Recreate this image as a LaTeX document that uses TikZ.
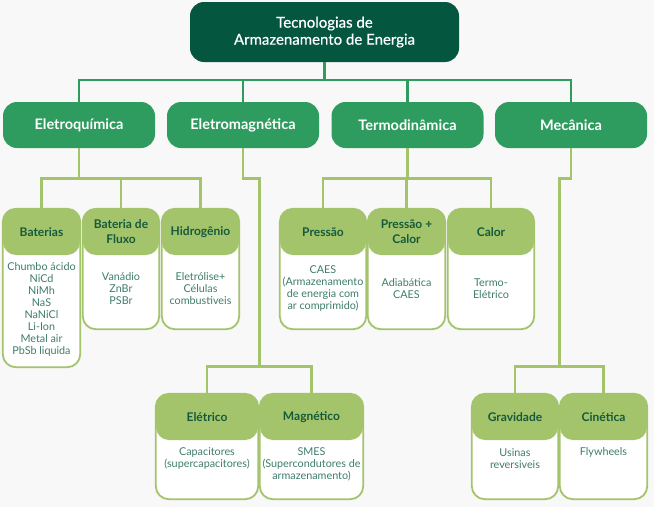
\documentclass[tikz,border=0pt]{standalone}
\usepackage{fontspec}
\setmainfont{Lato}
\newfontfamily\latomed{Lato}[FakeBold=0.6]
\usetikzlibrary{calc}
\definecolor{rootgreen}{HTML}{04563F}
\definecolor{midgreen}{HTML}{2E9B5F}
\definecolor{lightgreen}{HTML}{A3C46B}
\definecolor{headtext}{HTML}{155A3C}
\definecolor{bodytext}{HTML}{3F7D6C}
\definecolor{paper}{HTML}{F8F8F8}

% card: outline box plus a rounded header band
% #1 name, #2 left, #3 right, #4 top, #5 bottom, #6 header text
\newcommand{\mkcard}[6]{%
  \node[card, minimum width={#3-#2}, minimum height={#5-#4}] (#1) at ({(#2+#3)/2},{(#4+#5)/2}) {};
  \node[cardhead, minimum width={#3-#2}, minimum height=46] (#1h) at ({(#2+#3)/2},{#4+23}) {#6};
  \draw[cardline, rounded corners=13pt] (#1.south west) rectangle (#1.north east);
}

\begin{document}
\begin{tikzpicture}[x=1pt,y=-1pt,
  rootbox/.style={fill=rootgreen, rounded corners=14pt, minimum width=269, minimum height=60,
    text=white, font=\latomed\fontsize{15}{17}\selectfont, align=center, inner sep=0},
  catbox/.style={fill=midgreen, rounded corners=14pt, minimum width=152, minimum height=46,
    text=white, font=\bfseries\fontsize{14.5}{17}\selectfont, inner sep=0},
  card/.style={fill=white, rounded corners=13pt, inner sep=0},
  cardline/.style={draw=lightgreen, line width=1.8pt},
  cardhead/.style={fill=lightgreen, rounded corners=13pt, text=headtext,
    font=\bfseries\fontsize{12}{15}\selectfont, align=center, inner sep=0},
  cardtext/.style={text=bodytext, font=\fontsize{10.8}{12}\selectfont, align=center, inner sep=0},
  link1/.style={draw=midgreen, line width=2.6pt},
  link2/.style={draw=lightgreen, line width=2.6pt}]

\useasboundingbox (0,0) rectangle (666,514);
\fill[white] (0,0) rectangle (666,514);
\fill[paper] (0,0) rectangle (654,507);

% root and categories
\node[rootbox] (root) at (324.5,32) {Tecnologias de\\Armazenamento de Energia};
\node[catbox] (eq) at (79,125) {Eletroquímica};
\node[catbox] (em) at (243,125) {Eletromagnética};
\node[catbox] (td) at (407.5,125) {Termodinâmica};
\node[catbox] (me) at (571,125) {Mecânica};

\coordinate (bus1) at (0,80);
\draw[link1] (root.south) -- (root.south |- bus1);
\draw[link1] (eq.north) -- (eq.north |- bus1) -- (me.north |- bus1) -- (me.north);
\draw[link1] (em.north) -- (em.north |- bus1);
\draw[link1] (td.north) -- (td.north |- bus1);

% upper row of cards
\mkcard{bat}{3}{80}{209}{367}{Baterias}
\mkcard{flu}{83}{159}{209}{329}{Bateria de\\Fluxo}
\mkcard{hid}{162}{239}{209}{329}{Hidrogênio}
\mkcard{pre}{280}{366}{209}{329}{Pressão}
\mkcard{pc}{368}{445}{209}{329}{Pressão +\\Calor}
\mkcard{cal}{448}{534}{209}{329}{Calor}

% lower row of cards
\mkcard{ele}{156}{258}{394}{499}{Elétrico}
\mkcard{mag}{260}{363}{394}{499}{Magnético}
\mkcard{gra}{472}{558}{394}{499}{Gravidade}
\mkcard{cin}{560}{647}{394}{499}{Cinética}

% card contents
\node[cardtext] (batb) at (41.5,309) {Chumbo ácido\\NiCd\\NiMh\\NaS\\NaNiCl\\Li-Ion\\Metal air\\PbSb liquida};
\node[cardtext] (flub) at (121,289) {Vanádio\\ZnBr\\PSBr};
\node[cardtext] (hidb) at (200.5,289) {Eletrólise+\\Células\\combustiveis};
\node[cardtext] (preb) at (323,288.5) {CAES\\(Armazenamento\\de energia com\\ar comprimido)};
\node[cardtext] (pcb) at (406.5,288.5) {Adiabática\\CAES};
\node[cardtext] (calb) at (491,288.5) {Termo-\\Elétrico};
\node[cardtext] (eleb) at (207,458.5) {Capacitores\\(supercapacitores)};
\node[cardtext] (magb) at (311.5,464.5) {SMES\\(Supercondutores de\\armazenamento)};
\node[cardtext] (grab) at (515,458.5) {Usinas\\reversiveis};
\node[cardtext] (cinb) at (603.5,452.5) {Flywheels};

% second level connectors
\coordinate (bus2) at (0,178.5);
\coordinate (bus3) at (0,366.5);
\draw[link2] (eq.south) -- (eq.south |- bus2);
\draw[link2] (bat.north) -- (bat.north |- bus2) -- (hid.north |- bus2) -- (hid.north);
\draw[link2] (flu.north) -- (flu.north |- bus2);

\draw[link2] (td.south) -- (td.south |- bus2);
\draw[link2] (pre.north) -- (pre.north |- bus2) -- (cal.north |- bus2) -- (cal.north);
\draw[link2] (pc.north) -- (pc.north |- bus2);

\coordinate (emj) at ($(ele.north)!0.5!(mag.north)$);
\draw[link2] (em.south) -- (em.south |- bus2) -| (emj |- bus3);
\draw[link2] (ele.north) -- (ele.north |- bus3) -- (mag.north |- bus3) -- (mag.north);

\coordinate (mej) at ($(gra.north)!0.5!(cin.north)$);
\draw[link2] (me.south) -- (me.south |- bus2) -| (mej |- bus3);
\draw[link2] (gra.north) -- (gra.north |- bus3) -- (cin.north |- bus3) -- (cin.north);
\end{tikzpicture}
\end{document}
